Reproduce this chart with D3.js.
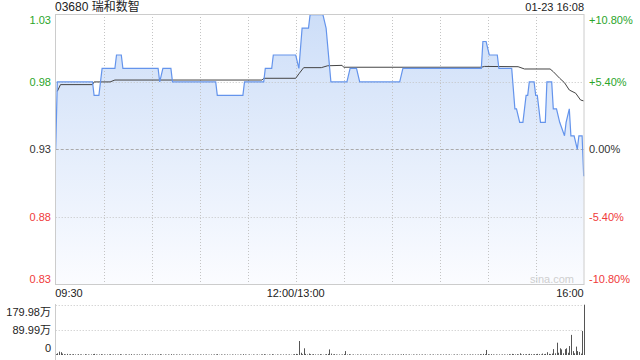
<!DOCTYPE html>
<html>
<head>
<meta charset="utf-8">
<script src="https://cdn.jsdelivr.net/npm/d3@7"></script>
<style>
body { margin: 0; background: #fff; }
svg { display: block; }
text { font-family: "Liberation Sans", Arial, "Noto Sans CJK SC", sans-serif; font-size: 11px; }
</style>
</head>
<body>
<svg width="640" height="360"></svg>
<script>
// 03680 intraday, minutes from 09:30 with lunch break collapsed (150 = 12:00/13:00)
var prevClose = 0.93;
var pctTicks = [10.8, 5.4, 0, -5.4, -10.8];
var timeTicks = [0, 150, 330];
var timeLabels = ["09:30", "12:00/13:00", "16:00"];
var gridMinutes = [30, 60, 90, 120, 150, 180, 210, 240, 270, 300];

var priceMinutes = [0,1,23,24,27,29,37,38,41,42,64,65,67,72,73,100,101,117,118,130,131,135,136,150,152,154,158,159,167,169,172,182,184,188,190,215,217,266,267,269,271,276,277,285,287,288,290,292,294,295,296,299,300,301,303,306,307,310,311,313,315,318,319,321,322,324,326,327,329,330];
var priceValues = [0.93,0.98,0.98,0.97,0.97,0.99,0.99,1.00,1.00,0.99,0.99,0.98,0.99,0.99,0.98,0.98,0.97,0.97,0.98,0.98,0.99,0.99,1.00,1.00,0.99,1.02,1.02,1.03,1.03,1.02,0.98,0.98,0.99,0.99,0.98,0.98,0.99,0.99,1.01,1.01,1.00,1.00,0.99,0.99,0.96,0.96,0.95,0.95,0.97,0.97,0.98,0.98,0.97,0.97,0.95,0.95,0.98,0.98,0.96,0.96,0.95,0.94,0.95,0.96,0.94,0.94,0.93,0.94,0.94,0.91];

var avgMinutes = [1,3,23,24,34,37,129,130,150,152,155,166,170,179,180,266,268,289,293,309,311,315,318,321,325,328,330];
var avgValues = [0.973,0.978,0.978,0.980,0.980,0.9814,0.9814,0.9827,0.9827,0.9860,0.9906,0.9906,0.9920,0.9923,0.9909,0.9909,0.9915,0.9913,0.9896,0.9896,0.9876,0.9827,0.9794,0.9740,0.9716,0.9666,0.9659];

// volume per minute, in 万
var volumes = [
  3,6,12,10,5,3,2,4,2,3,
  2,3,2,1,3,2,2,1,3,2,
  2,1,2,3,4,2,1,2,3,2,
  2,1,2,2,3,1,2,2,1,2,
  3,2,1,2,2,1,2,3,1,2,
  1,2,2,1,2,1,3,2,1,2,
  2,1,2,1,2,3,2,1,2,1,
  2,1,3,2,1,2,1,2,1,2,
  1,2,1,2,2,1,2,1,2,1,
  2,1,2,1,2,1,1,2,1,2,
  2,3,1,2,1,2,1,2,1,1,
  2,1,2,1,1,2,1,3,2,1,
  1,2,1,2,1,1,2,1,2,2,
  3,2,1,2,1,3,2,1,2,1,
  2,1,2,1,2,1,2,1,2,3,
  4,3,50,8,3,24,4,2,5,3,
  2,3,2,1,2,3,2,1,2,3,
  4,20,5,2,3,2,1,2,1,2,
  3,14,2,3,2,1,2,1,2,1,
  2,1,2,1,2,1,1,2,1,2,
  1,2,1,2,1,2,1,1,2,1,
  2,1,2,1,2,1,2,3,1,2,
  1,2,1,2,1,2,1,2,1,2,
  1,2,1,1,2,1,2,1,2,1,
  2,1,2,1,2,1,2,1,1,2,
  1,2,1,2,1,2,1,2,1,2,
  2,1,2,1,2,3,2,4,3,18,
  3,2,3,2,1,2,1,2,1,2,
  2,1,2,3,2,4,3,2,3,2,
  6,2,3,2,3,2,4,3,2,3,
  3,4,3,2,5,3,4,10,4,3,
  5,21,6,44,8,24,20,6,21,24,
  8,32,72,14,6,30,14,11,5,86,
  179.98
];
var volTicks = [179.98, 89.99, 0];
var volLabels = ["179.98万", "89.99万", "0"];

var upColor = "#2aa52a", downColor = "#f03a3a";
var plotLeft = 55.7, plotRight = 583.7, plotTop = 14, plotBottom = 284.5;

var svg = d3.select("svg");
var x = d3.scaleLinear().domain([0, 330]).range([plotLeft, plotRight]);
var y = d3.scaleLinear().domain([prevClose * (1 - 0.108), prevClose * (1 + 0.108)]).range([plotBottom, plotTop]);
var yVol = d3.scaleLinear().domain([0, 179.98]).range([355, 304.7]);

var grad = svg.append("defs").append("linearGradient")
    .attr("id", "fill").attr("gradientUnits", "userSpaceOnUse")
    .attr("x1", 0).attr("y1", plotTop).attr("x2", 0).attr("y2", plotBottom);
grad.append("stop").attr("offset", "0%").attr("stop-color", "#cddef8");
grad.append("stop").attr("offset", "100%").attr("stop-color", "#fbfcff");

var pricePts = priceMinutes.map(function(m, i) { return [m, priceValues[i]]; });
var avgPts = avgMinutes.map(function(m, i) { return [m, avgValues[i]]; });

svg.append("path")
    .datum(pricePts)
    .attr("fill", "url(#fill)")
    .attr("d", d3.area().x(function(d) { return x(d[0]); }).y0(plotBottom).y1(function(d) { return y(d[1]); }));

// grid
svg.selectAll(".vgrid").data(gridMinutes).enter().append("line")
    .attr("x1", function(d) { return Math.round(x(d)) + 0.5; })
    .attr("x2", function(d) { return Math.round(x(d)) + 0.5; })
    .attr("y1", plotTop).attr("y2", plotBottom)
    .attr("stroke", "#c4c4c4").attr("stroke-dasharray", "1,2");

svg.selectAll(".hgrid").data([5.4, -5.4]).enter().append("line")
    .attr("x1", plotLeft).attr("x2", plotRight)
    .attr("y1", function(d) { return Math.round(y(prevClose * (1 + d / 100))) + 0.5; })
    .attr("y2", function(d) { return Math.round(y(prevClose * (1 + d / 100))) + 0.5; })
    .attr("stroke", "#c4c4c4").attr("stroke-dasharray", "1,2");

svg.append("line")
    .attr("x1", plotLeft).attr("x2", plotRight)
    .attr("y1", Math.round(y(prevClose)) + 0.5).attr("y2", Math.round(y(prevClose)) + 0.5)
    .attr("stroke", "#aaa").attr("stroke-dasharray", "3,2");

svg.append("text")
    .attr("x", 574).attr("y", 283)
    .attr("text-anchor", "end")
    .attr("fill", "#cfcfcf")
    .text("sina.com");

svg.append("path")
    .datum(avgPts)
    .attr("fill", "none").attr("stroke", "#444").attr("stroke-width", 1)
    .attr("d", d3.line().x(function(d) { return x(d[0]); }).y(function(d) { return y(d[1]); }));

svg.append("path")
    .datum(pricePts)
    .attr("fill", "none").attr("stroke", "#6494ec").attr("stroke-width", 1.2)
    .attr("d", d3.line().x(function(d) { return x(d[0]); }).y(function(d) { return y(d[1]); }));

// frame
svg.append("rect")
    .attr("x", 55.5).attr("y", 14.5).attr("width", 528.5).attr("height", 270)
    .attr("fill", "none").attr("stroke", "#cccccc");

// price and percent labels
pctTicks.forEach(function(p, i) {
    var ty = y(prevClose * (1 + p / 100)) + 4;
    if (i == 0) ty += 6;
    if (i == pctTicks.length - 1) ty -= 6;
    var color = p > 0 ? upColor : (p < 0 ? downColor : "#333");
    svg.append("text")
        .attr("x", 51).attr("y", ty)
        .attr("text-anchor", "end").attr("fill", color)
        .text((prevClose * (1 + p / 100)).toFixed(2));
    svg.append("text")
        .attr("x", 589).attr("y", ty)
        .attr("fill", color)
        .text((p > 0 ? "+" : "") + p.toFixed(2) + "%");
});

// time labels
timeTicks.forEach(function(t, i) {
    svg.append("text")
        .attr("x", x(t) + (i == 0 ? -0.5 : 0)).attr("y", 296.5)
        .attr("text-anchor", i == 0 ? "start" : (i == 1 ? "middle" : "end"))
        .attr("fill", "#222")
        .text(timeLabels[i]);
});

svg.append("text").attr("x", 55).attr("y", 11).attr("fill", "#222").style("font-size", "12px").text("03680 瑞和数智");
svg.append("text").attr("x", 584).attr("y", 11).attr("text-anchor", "end").attr("fill", "#222").text("01-23 16:08");

// volume panel
svg.append("line")
    .attr("x1", 55.5).attr("x2", 55.5).attr("y1", 304).attr("y2", 360)
    .attr("stroke", "#cccccc");
svg.selectAll(".vgridline").data([179.98, 89.99]).enter().append("line")
    .attr("x1", plotLeft).attr("x2", plotRight)
    .attr("y1", function(d) { return Math.round(yVol(d)) + 0.5; })
    .attr("y2", function(d) { return Math.round(yVol(d)) + 0.5; })
    .attr("stroke", "#c4c4c4").attr("stroke-dasharray", "1,2");

svg.selectAll(".vol").data(volumes).enter().append("line")
    .attr("x1", function(d, i) { return Math.round(x(i)) + 0.5; })
    .attr("x2", function(d, i) { return Math.round(x(i)) + 0.5; })
    .attr("y1", yVol(0))
    .attr("y2", function(d) { return yVol(d); })
    .attr("stroke", "#555").attr("stroke-width", 1);

volTicks.forEach(function(v, i) {
    var ty = yVol(v) + 4;
    if (i == 0) ty += 7;
    if (i == volTicks.length - 1) ty -= 7;
    svg.append("text")
        .attr("x", 51).attr("y", ty)
        .attr("text-anchor", "end").attr("fill", "#222")
        .text(volLabels[i]);
});
</script>
</body>
</html>
